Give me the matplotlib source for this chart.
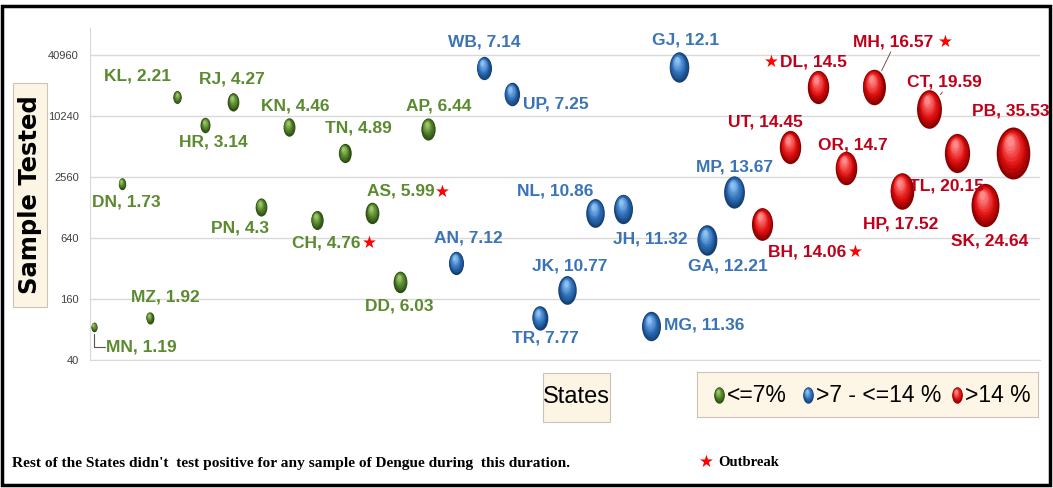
import numpy as np
import matplotlib
matplotlib.use("Agg")
import matplotlib.pyplot as plt
from matplotlib.path import Path
from matplotlib.patches import Rectangle
from matplotlib.colors import to_rgb
from matplotlib.transforms import ScaledTranslation

# data (x order = positivity rank)
states = ["MN", "DN", "MZ", "KL", "HR", "RJ", "PN", "KN", "CH", "TN", "AS", "DD",
          "AP", "AN", "WB", "UP", "TR", "JK", "NL", "JH", "MG", "GJ", "GA", "MP",
          "BH", "UT", "DL", "OR", "MH", "HP", "CT", "TL", "SK", "PB"]
positivity = [1.19, 1.73, 1.92, 2.21, 3.14, 4.27, 4.3, 4.46, 4.76, 4.89, 5.99, 6.03,
              6.44, 7.12, 7.14, 7.25, 7.77, 10.77, 10.86, 11.32, 11.36, 12.1, 12.21, 13.67,
              14.06, 14.45, 14.5, 14.7, 16.57, 17.52, 19.59, 20.15, 24.64, 35.53]
samples = [85, 2200, 104, 15700, 8300, 14100, 1290, 7960, 960, 4400, 1130, 236,
           7600, 363, 30400, 16800, 104, 196, 1130, 1240, 86, 31000, 610, 1820,
           880, 5040, 19800, 3140, 19800, 1870, 12000, 4400, 1350, 4400]
outbreak = ["CH", "AS", "BH", "DL", "MH"]
yticks = [40, 160, 640, 2560, 10240, 40960]

# label placement (pixel offsets from bubble centre)
lab_off = {"MN": (47, -20), "DN": (5, -18), "MZ": (16, 21), "KL": (-40, 21), "HR": (8, -17),
           "RJ": (-1, 23), "PN": (-21, -21), "KN": (6, 21), "CH": (10, -23), "TN": (14, 25),
           "AS": (28, 22), "DD": (-1, -24), "AP": (11, 23), "AN": (12, 25), "WB": (0, 26),
           "UP": (44, -10), "TR": (6, -20), "JK": (2, 24), "NL": (-40, 22), "JH": (27, -30),
           "MG": (53, 1), "GJ": (7, 27), "GA": (21, -26), "MP": (0, 25), "BH": (45, -28),
           "UT": (-25, 25), "DL": (-5, 25), "OR": (7, 23), "MH": (19, 45), "HP": (-1, -33),
           "CT": (15, 27), "TL": (-11, -33), "SK": (4, -36), "PB": (-2, 42)}
star_off = {"CH": (53, -23), "AS": (70, 21), "BH": (93, -28), "MH": (72, 45), "DL": (-47, 25)}

pal = {"g": ("#2c4a12", "#4e7d26", "#9cc86a"),
       "b": ("#163f73", "#2c6db8", "#8cc0f0"),
       "r": ("#8a0000", "#e31010", "#ff8a8a")}
txtcol = {"g": "#5b8a2f", "b": "#3a74b6", "r": "#c0001a"}

SANS = ["Liberation Sans", "DejaVu Sans"]
SERIF = ["Liberation Serif", "DejaVu Serif"]
BEIGE = "#fdf5e4"

ell = Path.unit_circle()
ell = Path(ell.vertices * [1 / 1.55, 1], ell.codes)


def group(v):
    if v <= 7:
        return "g"
    if v <= 14:
        return "b"
    return "r"


def mix(c1, c2, t):
    a = np.array(to_rgb(c1))
    b = np.array(to_rgb(c2))
    return tuple(a + (b - a) * t)


def sphere(ax, x, y, s, p, z=3):
    dark, base, light = p
    h = np.sqrt(s)
    n = 10
    for k in range(n):
        t = k / (n - 1)
        f = 1 - 0.8 * t
        if t < 0.4:
            col = mix(dark, base, t / 0.4)
        else:
            col = mix(base, light, (t - 0.4) / 0.6)
        off = ScaledTranslation(-0.08 * h * (1 - f) / 72, 0.28 * h * (1 - f) / 72,
                                fig.dpi_scale_trans)
        ax.scatter([x], [y], s=(h * f) ** 2, marker=ell, color=col, lw=0,
                   transform=ax.transData + off, zorder=z)


def fbox(x0, y0, x1, y1):
    # box given in pixels from the top-left corner
    fig.patches.append(Rectangle((x0 / 1053, 1 - y1 / 488), (x1 - x0) / 1053, (y1 - y0) / 488,
                                 transform=fig.transFigure, fc=BEIGE, ec="#c9c4b5", lw=0.8,
                                 zorder=-1))


fig = plt.figure(figsize=(10.53, 4.88), dpi=100)
ax = fig.add_axes([90 / 1053, 1 - 360 / 488, 950 / 1053, 332 / 488])
ax.set_facecolor("none")

xs = np.arange(1, len(states) + 1)
for x, st, v, n in zip(xs, states, positivity, samples):
    g = group(v)
    sphere(ax, x, n, 39.5 * v, pal[g])
    dx, dy = lab_off[st]
    lbl = "%s, %s" % (st, v)
    if st == "MN":
        ax.annotate("", xy=(x, n), xytext=(dx - 36, dy), textcoords="offset pixels",
                    arrowprops=dict(arrowstyle="-", color="#555555", lw=0.8,
                                    connectionstyle="angle,angleA=180,angleB=90,rad=0",
                                    shrinkA=0, shrinkB=5))
    elif st in ("MH", "CT"):
        ax.annotate("", xy=(x, n), xytext=(dx - 2, dy - 10), textcoords="offset pixels",
                    arrowprops=dict(arrowstyle="-", color="#7a5050", lw=0.7,
                                    shrinkA=0, shrinkB=13))
    ax.annotate(lbl, xy=(x, n), xytext=(dx, dy), textcoords="offset pixels",
                ha="center", va="center", fontsize=12.5, fontweight="bold",
                family=SANS, color=txtcol[g], zorder=5)
    if st in outbreak:
        sx, sy = star_off[st]
        ax.annotate("\u2605", xy=(x, n), xytext=(sx, sy), textcoords="offset pixels",
                    ha="center", va="center", fontsize=12, color="red",
                    family="DejaVu Sans", zorder=5)

ax.set_yscale("log", base=2)
ax.set_ylim(40, 75600)
ax.set_xlim(0.86, 34.97)
ax.set_yticks(yticks)
ax.set_yticklabels([str(t) for t in yticks], fontsize=8, family=SANS, color="#404040")
ax.minorticks_off()
ax.tick_params(length=0, pad=8)
ax.set_xticks([])
ax.grid(axis="y", color="#d9d9d9", lw=1)
ax.set_axisbelow(True)
for s in ["top", "right"]:
    ax.spines[s].set_visible(False)
ax.spines["left"].set_color("#d9d9d9")
ax.spines["bottom"].set_color("#d9d9d9")

# axis titles in beige boxes
fbox(13, 83, 47, 307)
fig.text(30 / 1053, 1 - 195 / 488, "Sample Tested", rotation=90, ha="center", va="center",
         fontsize=17.5, fontweight="bold", family="DejaVu Sans", color="black")
fbox(543, 373, 610, 422)
fig.text(576.5 / 1053, 1 - 397 / 488, "States", ha="center", va="center",
         fontsize=17, family=SANS, color="black")

# legend box
lax = fig.add_axes([697 / 1053, 1 - 417 / 488, 341 / 1053, 45 / 488])
lax.set_facecolor("#fdf6e6")
lax.set_xlim(0, 341)
lax.set_ylim(0, 45)
lax.set_xticks([])
lax.set_yticks([])
for s in lax.spines.values():
    s.set_color("#c9c4b5")
    s.set_linewidth(0.8)
leg_items = [("g", "<=7%", 22), ("b", ">7 - <=14 %", 111), ("r", ">14 %", 260)]
for g, t, lx in leg_items:
    sphere(lax, lx, 22, 140, pal[g])
    lax.text(lx + 8, 21, t, ha="left", va="center", fontsize=16.5, family=SANS, color="black")

fig.text(12 / 1053, 1 - 463 / 488, "Rest of the States didn't  test positive for any sample of Dengue during  this duration.",
         ha="left", va="center", fontsize=11.1, fontweight="bold", family=SERIF)
fig.text(706 / 1053, 1 - 462 / 488, "\u2605", ha="center", va="center", fontsize=12,
         color="red", family="DejaVu Sans")
fig.text(718 / 1053, 1 - 463 / 488, "Outbreak", ha="left", va="center", fontsize=10.5,
         fontweight="bold", family=SERIF)

fig.patches.append(Rectangle((1.5 / 1053, 1 - 485 / 488), 1048 / 1053, 479 / 488,
                             transform=fig.transFigure, fill=False, ec="black", lw=2.5))

fig.savefig("out.png", dpi=100)
